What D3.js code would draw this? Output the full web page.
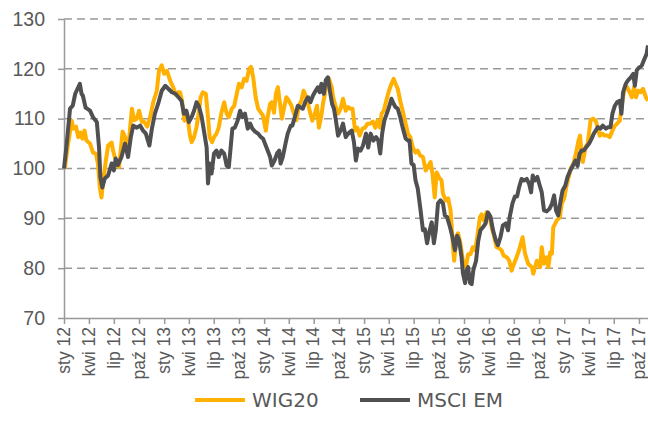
<!DOCTYPE html>
<html>
<head>
<meta charset="utf-8">
<script src="https://cdn.jsdelivr.net/npm/d3@7"></script>
<style>
  body { margin: 0; background: #fff; }
  svg { display: block; font-family: "DejaVu Sans", Verdana, sans-serif; }
</style>
</head>
<body>
<svg id="chart"></svg>
<script>
const yTicks = [70, 80, 90, 100, 110, 120, 130];
const quarterNames = ["sty", "kwi", "lip", "paź"];
const seriesNames = ["WIG20", "MSCI EM"];
const seriesColors = ["#ffb000", "#505052"];

const wig20 = [
  ["2012-01-04",100],["2012-01-16",105],["2012-01-29",109.6],["2012-02-04",108],["2012-02-14",108.4],
  ["2012-02-22",106.3],["2012-03-01",107.2],["2012-03-08",106],["2012-03-16",107.6],["2012-03-23",105.6],
  ["2012-04-05",105],["2012-04-16",103.2],["2012-04-26",103],["2012-05-04",101],["2012-05-11",96.2],
  ["2012-05-17",94.2],["2012-05-22",97],["2012-06-02",101.6],["2012-06-10",104.6],["2012-06-23",105.2],
  ["2012-06-28",103.6],["2012-07-11",101],["2012-07-20",100.3],["2012-08-02",107.4],["2012-08-11",106.3],
  ["2012-08-22",103.6],["2012-09-05",112],["2012-09-13",109.7],["2012-09-23",110],["2012-10-01",111.6],
  ["2012-10-11",109.4],["2012-10-19",109.4],["2012-10-31",108.4],["2012-11-11",110.4],["2012-11-22",113.3],
  ["2012-12-05",115.6],["2012-12-13",119.6],["2012-12-23",120.7],["2013-01-01",119],["2013-01-11",119.6],
  ["2013-01-23",117.6],["2013-02-03",116.3],["2013-02-11",114.8],["2013-02-20",115.3],["2013-02-28",115.3],
  ["2013-03-07",113.6],["2013-03-16",109.6],["2013-03-26",111],["2013-04-05",106.6],["2013-04-11",105.3],
  ["2013-04-20",106.3],["2013-04-29",108.3],["2013-05-07",111],["2013-05-14",114.3],["2013-05-22",115.3],
  ["2013-06-02",115],["2013-06-10",110.3],["2013-06-16",106.3],["2013-06-25",105.3],["2013-07-02",106.3],
  ["2013-07-11",107],["2013-07-19",108.2],["2013-07-29",111.2],["2013-08-08",113.3],["2013-08-17",111],
  ["2013-08-25",110.3],["2013-09-05",112],["2013-09-14",112.6],["2013-09-23",115],["2013-10-01",117],
  ["2013-10-11",116.3],["2013-10-20",118],["2013-10-29",117.6],["2013-11-07",120],["2013-11-14",120.4],
  ["2013-11-22",118.3],["2013-12-01",114.3],["2013-12-10",112],["2013-12-20",111.2],["2013-12-28",110.6],
  ["2014-01-07",107.6],["2014-01-14",110.4],["2014-01-23",113],["2014-01-29",113.3],["2014-02-06",111.2],
  ["2014-02-13",115],["2014-02-20",116.3],["2014-02-28",113],["2014-03-07",110],["2014-03-14",112],
  ["2014-03-23",114.3],["2014-04-01",113.6],["2014-04-11",112.6],["2014-04-16",111.6],["2014-04-29",109.7],
  ["2014-05-08",112.6],["2014-05-17",113.6],["2014-05-25",115.6],["2014-06-02",114.6],["2014-06-10",113],
  ["2014-06-19",111],["2014-06-26",109.6],["2014-07-05",111],["2014-07-13",112.6],["2014-07-20",108.2],
  ["2014-07-29",110.6],["2014-08-04",113],["2014-08-11",115],["2014-08-19",117.7],["2014-08-26",118],
  ["2014-09-05",116.3],["2014-09-10",114.3],["2014-09-20",112.3],["2014-09-28",111],["2014-10-07",112],
  ["2014-10-16",114],["2014-10-26",111.6],["2014-11-04",112.3],["2014-11-13",112],["2014-11-20",112],
  ["2014-11-29",107.6],["2014-12-07",108.2],["2014-12-16",106.6],["2014-12-26",108],["2015-01-05",108.2],
  ["2015-01-13",109],["2015-01-23",109],["2015-02-02",109.4],["2015-02-11",108.2],["2015-02-19",109.6],
  ["2015-02-28",108.2],["2015-03-06",111],["2015-03-14",111.6],["2015-03-23",113.6],["2015-04-02",115.6],
  ["2015-04-11",117],["2015-04-19",118],["2015-04-26",117],["2015-05-04",116],["2015-05-13",113.6],
  ["2015-05-22",111.6],["2015-06-02",109],["2015-06-10",107],["2015-06-19",106.3],["2015-06-28",104.2],
  ["2015-07-08",103.2],["2015-07-16",103.6],["2015-07-25",102.6],["2015-08-04",102.3],["2015-08-14",99.6],
  ["2015-08-22",100.3],["2015-09-01",101.3],["2015-09-08",98.9],["2015-09-16",94.2],["2015-09-23",99.2],
  ["2015-10-02",98.2],["2015-10-11",97.6],["2015-10-16",95],["2015-10-26",93.6],["2015-11-04",94],
  ["2015-11-13",91.6],["2015-11-22",84.2],["2015-11-26",81.5],["2015-12-05",86.5],["2015-12-10",87],
  ["2015-12-19",85],["2015-12-28",81.5],["2016-01-08",80.2],["2016-01-16",82.8],["2016-01-25",82.8],
  ["2016-02-02",84.2],["2016-02-11",83.6],["2016-02-19",86.5],["2016-02-28",90.2],["2016-03-05",90.8],
  ["2016-03-13",89.6],["2016-03-23",91.2],["2016-04-02",90.8],["2016-04-11",88.2],["2016-04-19",86.5],
  ["2016-04-29",84.2],["2016-05-08",84],["2016-05-17",83.6],["2016-05-25",82.5],["2016-06-05",82.2],
  ["2016-06-14",81.5],["2016-06-23",79.5],["2016-07-01",80.8],["2016-07-11",82.2],["2016-07-20",83.6],
  ["2016-08-02",86.2],["2016-08-11",82.9],["2016-08-22",80.9],["2016-09-05",80.2],["2016-09-10",78.9],
  ["2016-09-23",81.5],["2016-10-05",80.2],["2016-10-11",84.2],["2016-10-19",80.9],["2016-10-29",82.2],
  ["2016-11-04",80.2],["2016-11-11",83.2],["2016-11-17",82.9],["2016-11-22",88.2],["2016-12-05",89.6],
  ["2016-12-16",90.2],["2016-12-23",93],["2017-01-01",94],["2017-01-08",96.2],["2017-01-16",98],
  ["2017-01-25",100],["2017-02-04",101],["2017-02-14",103.3],["2017-02-22",105.6],["2017-02-28",106.6],
  ["2017-03-05",103],["2017-03-10",101.3],["2017-03-20",104.3],["2017-03-28",105],["2017-04-07",109.6],
  ["2017-04-16",110],["2017-04-26",109.6],["2017-05-04",108],["2017-05-11",106.6],["2017-05-20",107],
  ["2017-05-29",106.6],["2017-06-07",106.6],["2017-06-16",106.3],["2017-06-26",107.6],["2017-07-05",108.6],
  ["2017-07-13",109],["2017-07-23",109.6],["2017-07-29",112.3],["2017-08-04",114.3],["2017-08-11",116.6],
  ["2017-08-19",116.3],["2017-08-28",115.3],["2017-09-05",114.3],["2017-09-13",116.3],["2017-09-20",114.3],
  ["2017-09-28",115.6],["2017-10-07",115.3],["2017-10-16",116],["2017-10-26",114.3],["2017-11-03",113.6]
];

const msciEm = [
  ["2012-01-01",100],["2012-01-11",105],["2012-01-23",112],["2012-02-02",112.6],["2012-02-11",115],
  ["2012-02-22",116.3],["2012-02-28",117],["2012-03-05",115],["2012-03-10",114.6],["2012-03-20",112.2],
  ["2012-04-05",111.6],["2012-04-16",110.3],["2012-04-30",109.3],["2012-05-08",104.2],["2012-05-13",98.2],
  ["2012-05-20",96.2],["2012-05-29",98],["2012-06-10",98.6],["2012-06-23",101],["2012-07-01",99.6],
  ["2012-07-08",102],["2012-07-16",100.7],["2012-07-29",102.3],["2012-08-11",105],["2012-08-22",102.3],
  ["2012-09-01",106.3],["2012-09-10",108.6],["2012-09-23",108.2],["2012-10-05",108.6],["2012-10-16",107.6],
  ["2012-10-26",107],["2012-11-08",104.6],["2012-11-17",108],["2012-11-28",111],["2012-12-10",113],
  ["2012-12-23",115.6],["2013-01-05",116.6],["2013-01-16",116],["2013-01-29",115.3],["2013-02-11",115],
  ["2013-02-22",114.3],["2013-03-05",113.6],["2013-03-14",111],["2013-03-23",111.6],["2013-04-01",109.3],
  ["2013-04-11",110.3],["2013-04-20",111.6],["2013-04-29",113.3],["2013-05-07",112.6],["2013-05-17",110.6],
  ["2013-05-26",107.6],["2013-06-05",104.2],["2013-06-10",97],["2013-06-16",101],["2013-06-23",99],
  ["2013-07-02",103],["2013-07-11",103.6],["2013-07-19",102.3],["2013-07-29",103.6],["2013-08-08",103],
  ["2013-08-17",100.6],["2013-08-25",100.3],["2013-09-02",105],["2013-09-07",108],["2013-09-16",108.2],
  ["2013-09-26",109.6],["2013-10-05",111.6],["2013-10-14",110.3],["2013-10-23",111],["2013-11-02",108],
  ["2013-11-11",109],["2013-11-19",108],["2013-11-29",107.4],["2013-12-10",107],["2013-12-20",106.3],
  ["2013-12-28",106],["2014-01-11",104],["2014-01-23",102.3],["2014-01-29",100.6],["2014-02-08",101.6],
  ["2014-02-17",103],["2014-02-25",103.6],["2014-03-02",101],["2014-03-10",102.3],["2014-03-20",105],
  ["2014-03-28",107],["2014-04-08",108.6],["2014-04-14",108.6],["2014-04-23",110.3],["2014-05-04",112.6],
  ["2014-05-13",112.3],["2014-05-22",112],["2014-06-02",113.6],["2014-06-10",114.3],["2014-06-19",113.3],
  ["2014-06-28",114.6],["2014-07-08",115.6],["2014-07-16",116.3],["2014-07-23",115.3],["2014-07-29",117],
  ["2014-08-07",115],["2014-08-14",117.7],["2014-08-22",118.3],["2014-08-29",115.6],["2014-09-06",113],
  ["2014-09-13",112],["2014-09-20",109.7],["2014-09-28",106.6],["2014-10-07",107.6],["2014-10-16",109],
  ["2014-10-26",106.3],["2014-11-04",107],["2014-11-17",107.6],["2014-11-25",105.3],["2014-12-02",101.6],
  ["2014-12-10",104],["2014-12-19",103.6],["2014-12-28",104.6],["2015-01-08",107],["2015-01-16",104.2],
  ["2015-01-25",107],["2015-02-04",105.6],["2015-02-14",106.3],["2015-02-22",105.6],["2015-03-01",103],
  ["2015-03-08",107],["2015-03-16",109.6],["2015-03-25",111],["2015-04-02",112.3],["2015-04-11",114],
  ["2015-04-19",113],["2015-04-26",112.3],["2015-05-04",112],["2015-05-13",110.3],["2015-05-22",108.2],
  ["2015-06-02",106],["2015-06-10",105.6],["2015-06-16",105.6],["2015-06-23",101],["2015-07-01",100.7],
  ["2015-07-08",97.6],["2015-07-16",96],["2015-07-25",92.2],["2015-08-04",87.6],["2015-08-11",87.8],
  ["2015-08-19",85],["2015-08-26",87],["2015-09-05",89.2],["2015-09-13",85],["2015-09-20",87.6],
  ["2015-09-28",93],["2015-10-07",93.6],["2015-10-16",93],["2015-10-23",90.6],["2015-10-31",90.3],
  ["2015-11-11",88.2],["2015-11-20",86.2],["2015-11-29",83.6],["2015-12-07",86.5],["2015-12-14",85.6],
  ["2015-12-23",82.2],["2015-12-28",79],["2016-01-05",77],["2016-01-11",79.6],["2016-01-16",80.2],
  ["2016-01-23",77],["2016-01-29",76.8],["2016-02-04",79.6],["2016-02-14",81.5],["2016-02-22",85.5],
  ["2016-03-01",87.6],["2016-03-10",88.2],["2016-03-20",89],["2016-03-28",91.2],["2016-04-07",90.3],
  ["2016-04-16",87.6],["2016-04-26",85.6],["2016-05-04",84.6],["2016-05-13",86.2],["2016-05-22",88.6],
  ["2016-06-02",89],["2016-06-10",87.6],["2016-06-16",90.3],["2016-06-26",93],["2016-07-05",94.4],
  ["2016-07-13",94.4],["2016-07-20",96.2],["2016-07-29",97.9],["2016-08-07",97.6],["2016-08-17",97.9],
  ["2016-08-26",96.9],["2016-09-02",95.2],["2016-09-08",98.6],["2016-09-16",97.6],["2016-09-25",98.3],
  ["2016-10-02",96.9],["2016-10-11",95.2],["2016-10-19",91.6],["2016-10-29",91.4],["2016-11-08",91.9],
  ["2016-11-17",92.9],["2016-11-25",94.6],["2016-12-02",91.6],["2016-12-10",90.6],["2016-12-19",93.6],
  ["2016-12-26",95.6],["2017-01-05",96.6],["2017-01-13",98.3],["2017-01-23",99.6],["2017-02-02",100.6],
  ["2017-02-11",101.6],["2017-02-19",100.5],["2017-02-26",102.9],["2017-03-05",103.6],["2017-03-13",103.6],
  ["2017-03-23",104.3],["2017-04-02",105],["2017-04-11",106],["2017-04-19",107],["2017-04-26",107.6],
  ["2017-05-04",108.3],["2017-05-13",108],["2017-05-22",108.6],["2017-06-02",108],["2017-06-10",108.3],
  ["2017-06-19",108.3],["2017-06-26",111],["2017-07-05",112.6],["2017-07-13",113.3],["2017-07-23",113.6],
  ["2017-07-29",111],["2017-08-04",115.3],["2017-08-14",117],["2017-08-22",117.7],["2017-09-01",118.3],
  ["2017-09-10",119],["2017-09-16",116.6],["2017-09-23",119.7],["2017-10-02",120.3],["2017-10-11",120.6],
  ["2017-10-19",121.7],["2017-10-29",123],["2017-11-03",124.7]
];

const width = 648;
const height = 432;
const margin = { top: 19, right: 0, bottom: 114, left: 64 };
const parse = d3.timeParse("%Y-%m-%d");

const svg = d3.select("#chart").attr("width", width).attr("height", height);

const x = d3.scaleTime()
  .domain([parse("2012-01-01"), parse("2017-11-03")])
  .range([margin.left, width - margin.right]);

const y = d3.scaleLinear()
  .domain([70, 130])
  .range([height - margin.bottom, margin.top]);

// dashed gridlines
svg.append("g")
  .selectAll("line")
  .data(yTicks.filter(d => d > 70))
  .enter().append("line")
  .attr("x1", margin.left)
  .attr("x2", width - margin.right)
  .attr("y1", d => y(d))
  .attr("y2", d => y(d))
  .attr("stroke", "#999")
  .attr("stroke-width", 1.5)
  .attr("stroke-dasharray", "8,5");

// y axis
let yAxis = svg.append("g")
  .attr("transform", `translate(${margin.left},0)`)
  .call(d3.axisLeft(y).tickValues(yTicks).tickSize(6).tickSizeOuter(0).tickPadding(13));
yAxis.select(".domain").attr("stroke", "#999").attr("stroke-width", 1.5);
yAxis.selectAll(".tick line").attr("stroke", "#999").attr("stroke-width", 1.5);
yAxis.selectAll("text")
  .attr("fill", "#595959")
  .style("font-size", "19.5px");

// x axis, quarterly ticks
let quarterTicks = d3.timeMonth.every(3).range(parse("2012-01-01"), parse("2017-10-02"));
let xAxis = svg.append("g")
  .attr("transform", `translate(0,${height - margin.bottom})`)
  .call(d3.axisBottom(x)
    .tickValues(quarterTicks)
    .tickSize(6)
    .tickSizeOuter(0)
    .tickFormat(d => quarterNames[d.getMonth() / 3] + " " + String(d.getFullYear()).slice(2)));
xAxis.select(".domain").attr("stroke", "#999").attr("stroke-width", 1.5);
xAxis.selectAll(".tick line").attr("stroke", "#999").attr("stroke-width", 1.5);
xAxis.selectAll("text")
  .attr("fill", "#595959")
  .style("font-size", "17.5px")
  .style("text-anchor", "end")
  .attr("transform", "rotate(-90)")
  .attr("x", -9)
  .attr("y", 0)
  .attr("dy", "0.3em");

// lines
let line = d3.line()
  .x(d => x(parse(d[0])))
  .y(d => y(d[1]));

[wig20, msciEm].forEach((series, i) => {
  svg.append("path")
    .datum(series)
    .attr("fill", "none")
    .attr("stroke", seriesColors[i])
    .attr("stroke-width", 4)
    .attr("stroke-linejoin", "round")
    .attr("d", line);
});

// legend
let legendX = [195, 360];
let legend = svg.append("g").attr("transform", "translate(0,400)");
seriesNames.forEach((name, i) => {
  legend.append("line")
    .attr("x1", legendX[i])
    .attr("x2", legendX[i] + 50)
    .attr("y1", 0)
    .attr("y2", 0)
    .attr("stroke", seriesColors[i])
    .attr("stroke-width", 4);
  legend.append("text")
    .attr("x", legendX[i] + 57)
    .attr("y", 0)
    .attr("dy", "0.36em")
    .attr("fill", "#595959")
    .style("font-size", "20px")
    .text(name);
});
</script>
</body>
</html>
